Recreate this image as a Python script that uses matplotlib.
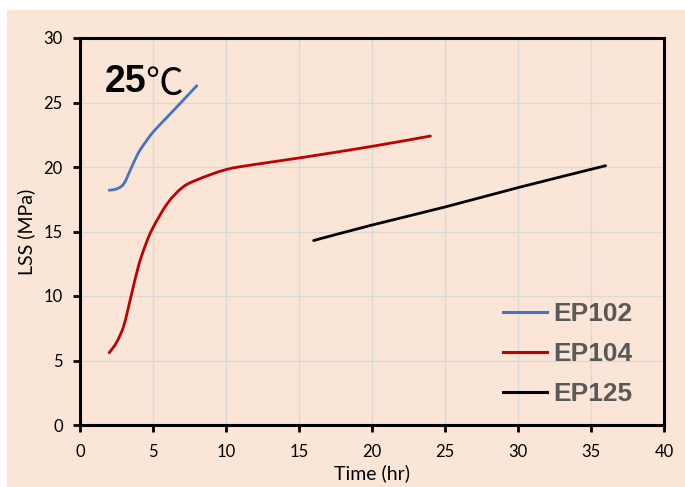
import matplotlib
matplotlib.use('Agg')
import matplotlib.pyplot as plt
from matplotlib.patches import Rectangle, PathPatch
from matplotlib.path import Path
from matplotlib.lines import Line2D

# values
ep102_t = [2, 2.5, 3, 3.5, 4, 4.5, 5, 6, 7, 8]
ep102_lss = [18.2, 18.3, 18.7, 19.9, 21.1, 21.95, 22.7, 23.9, 25.1, 26.3]

ep104_t = [2, 2.5, 3, 3.5, 4, 4.5, 5, 6, 7, 8, 10, 12, 15, 20, 24]
ep104_lss = [5.6, 6.4, 7.7, 10.0, 12.3, 14.0, 15.3, 17.2, 18.4, 19.0, 19.8, 20.2, 20.7, 21.6, 22.4]

ep125_t = [16, 20, 25, 30, 36]
ep125_lss = [14.3, 15.5, 16.9, 18.4, 20.1]

series = ["EP102", "EP104", "EP125"]
colors = ["#4472C4", "#C00000", "#000000"]


def smooth_path(xs, ys):
    """Excel-style smoothed line: Catmull-Rom segments as cubic Beziers."""
    pts = list(zip(xs, ys))
    verts = [pts[0]]
    codes = [Path.MOVETO]
    n = len(pts)
    for i in range(n - 1):
        p0 = pts[i - 1] if i > 0 else pts[i]
        p1, p2 = pts[i], pts[i + 1]
        p3 = pts[i + 2] if i + 2 < n else pts[i + 1]
        c1 = (p1[0] + (p2[0] - p0[0]) / 6, p1[1] + (p2[1] - p0[1]) / 6)
        c2 = (p2[0] - (p3[0] - p1[0]) / 6, p2[1] - (p3[1] - p1[1]) / 6)
        verts += [c1, c2, p2]
        codes += [Path.CURVE4] * 3
    return Path(verts, codes)


fig = plt.figure(figsize=(6.85, 4.87), dpi=100, facecolor="white")
# peach chart area with a thin white margin top/left
fig.patches.append(Rectangle((7 / 685, 0), 1, (487 - 10) / 487,
                             transform=fig.transFigure, facecolor="#FBE5D6",
                             edgecolor="none", zorder=-10))

ax = fig.add_axes([80 / 685, (487 - 425) / 487, 584 / 685, 387 / 487])
ax.set_zorder(1)
ax.set_facecolor("#FBE5D6")

handles = []
for t, v, name, c in zip([ep102_t, ep104_t, ep125_t],
                         [ep102_lss, ep104_lss, ep125_lss], series, colors):
    ax.add_patch(PathPatch(smooth_path(t, v), facecolor="none", edgecolor=c,
                           lw=2.0, capstyle="round"))
    handles.append(Line2D([], [], color=c, lw=2.2, label=name))

ax.set_xlim(0, 40)
ax.set_ylim(0, 30)
ax.set_xticks(range(0, 41, 5))
ax.set_yticks(range(0, 31, 5))
ax.grid(True, color="#D9D9D9", lw=1.0)
ax.set_axisbelow(True)
for s in ax.spines.values():
    s.set_linewidth(2.2)
    s.set_color("black")
ax.tick_params(direction="out", length=5, width=2, labelsize=12)
ax.tick_params(axis="x", pad=9)
ax.tick_params(axis="y", pad=7.5)
for lab in ax.get_xticklabels() + ax.get_yticklabels():
    lab.set_fontfamily("Lato")

ax.set_xlabel("Time (hr)", fontsize=14, family="Lato", labelpad=3)
ax.set_ylabel("LSS (MPa)", fontsize=14, family="Lato", labelpad=6)

ax.text(1.72, 25.8, "25", fontsize=27, fontweight="bold", family="Liberation Sans",
        ha="left", va="baseline")
ax.text(4.45, 25.6, "℃", fontsize=27, family=["Noto Sans CJK SC", "DejaVu Sans"],
        ha="left", va="baseline")

leg = ax.legend(handles=handles, loc="upper left", bbox_to_anchor=(0.684, 0.379),
                frameon=False, handlelength=1.67, handletextpad=0.23,
                labelspacing=0.6,
                prop={"family": "Liberation Sans", "weight": "bold", "size": 19})
for txt in leg.get_texts():
    txt.set_color("#595959")

fig.savefig("out.png", dpi=100, facecolor=fig.get_facecolor())
